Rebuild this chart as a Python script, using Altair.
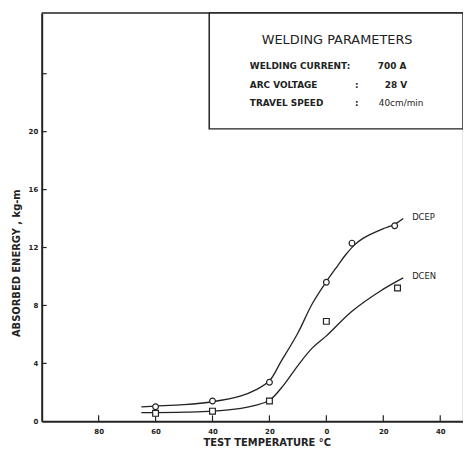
import altair as alt
import pandas as pd

# ---- data ----
series = ["DCEP", "DCEN"]

dcep_pt_temp = [-60, -40, -20, 0, 9, 24]
dcep_pt_energy = [1.0, 1.4, 2.7, 9.6, 12.3, 13.5]
dcen_pt_temp = [-60, -40, -20, 0, 25]
dcen_pt_energy = [0.55, 0.7, 1.4, 6.9, 9.2]

dcep_curve_temp = [-65, -60, -50, -40, -30, -25, -20, -16, -10, -5, 0, 4, 7, 10, 13, 17, 20, 24, 27]
dcep_curve_energy = [1.0, 1.05, 1.15, 1.35, 1.75, 2.15, 2.8, 4.1, 6.1, 8.1, 9.65, 10.75, 11.55, 12.2, 12.65, 13.05, 13.3, 13.6, 14.0]
dcen_curve_temp = [-65, -60, -50, -40, -30, -25, -20, -15, -10, -5, 0, 9, 19, 27]
dcen_curve_energy = [0.6, 0.6, 0.63, 0.7, 0.9, 1.1, 1.45, 2.5, 3.85, 5.05, 5.9, 7.6, 9.0, 9.9]

x_tick_values = [-80, -60, -40, -20, 0, 20, 40]
y_label_values = [0, 4, 8, 12, 16, 20]
y_tick_values = [4, 8, 12, 16, 20, 24]

box_title = "WELDING PARAMETERS"
param_names = ["WELDING CURRENT:", "ARC VOLTAGE", "TRAVEL SPEED"]
param_values = ["700 A", "28 V", "40cm/min"]

# ---- tables ----
pts = pd.DataFrame({
    "temp": dcep_pt_temp + dcen_pt_temp,
    "energy": dcep_pt_energy + dcen_pt_energy,
    "series": [series[0]] * len(dcep_pt_temp) + [series[1]] * len(dcen_pt_temp),
})
curves = pd.DataFrame({
    "temp": dcep_curve_temp + dcen_curve_temp,
    "energy": dcep_curve_energy + dcen_curve_energy,
    "series": [series[0]] * len(dcep_curve_temp) + [series[1]] * len(dcen_curve_temp),
})
ends = pd.DataFrame({
    "temp": [dcep_curve_temp[-1], dcen_curve_temp[-1]],
    "energy": [dcep_curve_energy[-1], dcen_curve_energy[-1]],
    "series": series,
})
xt = pd.DataFrame({"t": x_tick_values})
yt = pd.DataFrame({"e": y_tick_values})
one = pd.DataFrame({"a": [0]})

INK = "#222222"
FONT = "DejaVu Sans"
W, H = 425, 412

xs = alt.Scale(domain=[-100, 48], nice=False, zero=False)
ys = alt.Scale(domain=[0, 28.2], nice=False, zero=False)

xaxis = alt.Axis(values=x_tick_values, labelExpr="abs(datum.value)", tickSize=0,
                 domainWidth=2, domainColor=INK, labelColor=INK, labelFont=FONT,
                 labelFontSize=7, labelFontWeight="bold", labelPadding=6, grid=False,
                 title="TEST  TEMPERATURE  °C", titleFont=FONT, titleFontSize=10,
                 titleFontWeight="bold", titleColor=INK, titleX=227, titleY=24,
                 titleBaseline="alphabetic", titleAlign="center")
yaxis = alt.Axis(values=y_label_values, tickSize=0, domainWidth=2, domainColor=INK,
                 labelColor=INK, labelFont=FONT, labelFontSize=7, labelFontWeight="bold",
                 labelPadding=4, grid=False,
                 title="ABSORBED  ENERGY ,  kg-m", titleFont=FONT, titleFontSize=10,
                 titleFontWeight="bold", titleColor=INK, titleX=-25, titleY=252,
                 titleAngle=270, titleBaseline="middle", titleAlign="center")

base_lines = alt.Chart(curves).mark_line(interpolate="catmull-rom", strokeWidth=1.3, color=INK).encode(
    x=alt.X("temp:Q", scale=xs, axis=xaxis),
    y=alt.Y("energy:Q", scale=ys, axis=yaxis),
    detail="series:N",
)

circles = alt.Chart(pts).transform_filter(alt.datum.series == series[0]).mark_point(
    shape="circle", filled=False, size=34, strokeWidth=1.2, color=INK, fill="white", fillOpacity=1
).encode(x=alt.X("temp:Q", scale=xs), y=alt.Y("energy:Q", scale=ys))

squares = alt.Chart(pts).transform_filter(alt.datum.series == series[1]).mark_point(
    shape="square", filled=False, size=34, strokeWidth=1.2, color=INK, fill="white", fillOpacity=1
).encode(x=alt.X("temp:Q", scale=xs), y=alt.Y("energy:Q", scale=ys))

end_labels = alt.Chart(ends).mark_text(align="left", baseline="middle", dx=9, dy=-2,
                                       font=FONT, fontSize=8.5, color=INK).encode(
    x=alt.X("temp:Q", scale=xs), y=alt.Y("energy:Q", scale=ys), text="series:N")

x_ticks = alt.Chart(xt).mark_rule(color=INK, strokeWidth=1.2).encode(
    x=alt.X("t:Q", scale=xs), y=alt.value(H), y2=alt.value(H - 6))
y_ticks = alt.Chart(yt).mark_rule(color=INK, strokeWidth=1.2).encode(
    y=alt.Y("e:Q", scale=ys), x=alt.value(0), x2=alt.value(5))

top_border = alt.Chart(one).mark_rule(color=INK, strokeWidth=1.5).encode(
    x=alt.value(0), x2=alt.value(W), y=alt.value(0))
right_border = alt.Chart(one).mark_rule(color="#c8c8c8", strokeWidth=1).encode(
    x=alt.value(W), y=alt.value(117), y2=alt.value(H))

box = alt.Chart(one).mark_rect(fill="white", stroke=INK, strokeWidth=1.5).encode(
    x=alt.value(169), x2=alt.value(W), y=alt.value(0), y2=alt.value(117))

def txt(s, x, y, size, align="left", weight="normal"):
    return alt.Chart(one).mark_text(align=align, baseline="middle", font=FONT, fontSize=size,
                                    fontWeight=weight, color=INK).encode(
        x=alt.value(x), y=alt.value(y), text=alt.value(s))

box_texts = [
    txt(box_title, 298, 27, 13, align="center"),
    txt(param_names[0], 210, 54, 9, weight="bold"),
    txt(param_names[1], 210, 73, 9, weight="bold"),
    txt(param_names[2], 210, 91, 9, weight="bold"),
    txt(":", 316, 73, 9, weight="bold"),
    txt(":", 316, 91, 9, weight="bold"),
    txt(param_values[0], 339, 54, 9, weight="bold"),
    txt(param_values[1], 346, 73, 9, weight="bold"),
    txt(param_values[2], 340, 91, 9),
]

chart = alt.layer(
    base_lines, x_ticks, y_ticks, circles, squares, end_labels,
    top_border, right_border, box, *box_texts
).properties(
    width=W, height=H,
    autosize=alt.AutoSizeParams(type="none"),
    padding={"left": 34, "top": 3, "right": 0, "bottom": 25},
    background="white",
).configure_view(stroke=None)

chart.save("out.html", embed_options={"renderer": "svg", "actions": False})
